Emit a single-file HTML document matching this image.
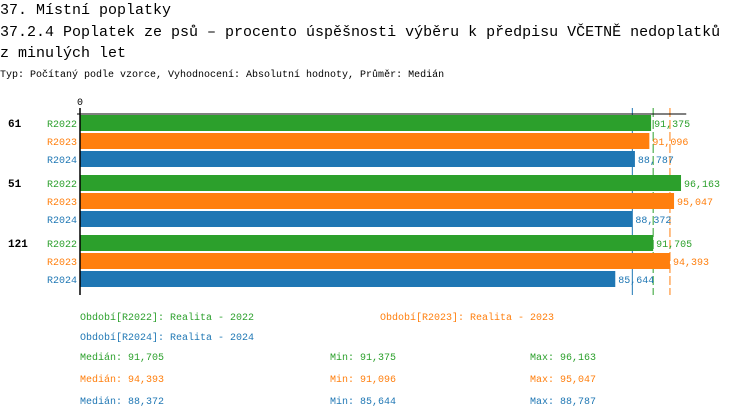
<!DOCTYPE html>
<html><head><meta charset="utf-8">
<style>
body{margin:0;background:#fff;width:750px;height:414px;overflow:hidden;font-family:"Liberation Mono",monospace;}
svg{display:block}
</style></head>
<body>
<svg id="chart" width="750" height="414" xmlns="http://www.w3.org/2000/svg">
<text x="0" y="14" font-size="15" font-family="Liberation Mono, monospace">37. Místní poplatky</text>
<text x="0" y="36" font-size="15" font-family="Liberation Mono, monospace">37.2.4 Poplatek ze psů – procento úspěšnosti výběru k předpisu VČETNĚ nedoplatků</text>
<text x="0" y="57" font-size="15" font-family="Liberation Mono, monospace">z minulých let</text>
<text x="0" y="77" font-size="10" font-family="Liberation Mono, monospace">Typ: Počítaný podle vzorce, Vyhodnocení: Absolutní hodnoty, Průměr: Medián</text>
<g id="plot"></g>
</svg>
<script>
const groups = ["61","51","121"];
const seriesNames = ["R2022","R2023","R2024"];
const seriesColors = ["#2ca02c","#ff7f0e","#1f77b4"];
const valuesR2022 = [91.375, 96.163, 91.705];
const valuesR2023 = [91.096, 95.047, 94.393];
const valuesR2024 = [88.787, 88.372, 85.644];
const medians = [91.705, 94.393, 88.372];
const mins = [91.375, 91.096, 85.644];
const maxs = [96.163, 95.047, 88.787];
const legendLabels = ["Období[R2022]: Realita - 2022","Období[R2023]: Realita - 2023","Období[R2024]: Realita - 2024"];

const NS = "http://www.w3.org/2000/svg";
const plot = document.getElementById('plot');
const x0 = 80, pxPerUnit = 6.25;
const xScale = v => x0 + v * pxPerUnit;
const yBar = (g, s) => 115 + g * 60 + s * 18;
const series = [valuesR2022, valuesR2023, valuesR2024];
const fmt = v => v.toFixed(3).replace('.', ',');
function mk(tag, attrs, text){
  const e = document.createElementNS(NS, tag);
  for (const k in attrs) e.setAttribute(k, attrs[k]);
  if (text !== undefined) e.textContent = text;
  plot.appendChild(e);
  return e;
}
const F = "Liberation Mono, monospace";

let t = mk('text', {x: x0, y: 105, 'font-size': 10, 'text-anchor': 'middle', 'font-family': F}, '0');



medians.forEach((m, si) => {
  const attrs = {x1: xScale(m), x2: xScale(m), y1: 108, y2: 295, stroke: seriesColors[si], 'stroke-width': 1};
  if (si < 2) attrs['stroke-dasharray'] = '9,3';
  const l = mk('line', attrs);
  
  
});

let tl = mk('line', {x1: 77, x2: xScale(97), y1: 114, y2: 114, stroke: '#000', 'stroke-width': 1});



groups.forEach((g, gi) => {
  let lab = mk('text', {x: 8, y: yBar(gi, 0) + 12, 'font-size': 11, 'font-weight': 'bold', 'font-family': F}, g);
  
  
  series.forEach((vals, si) => {
    const y = yBar(gi, si);
    const r = mk('rect', {x: x0, y: y, width: xScale(vals[gi]) - x0, height: 16, fill: seriesColors[si]});
    
    
    const sl = mk('text', {x: 77, y: y + 12, 'font-size': 10, 'text-anchor': 'end', fill: seriesColors[si], 'font-family': F}, seriesNames[si]);
    
    
    const vl = mk('text', {x: xScale(vals[gi]) + 3, y: y + 12, 'font-size': 10, fill: seriesColors[si], 'font-family': F}, fmt(vals[gi]));
    
    
  });
});

let ax = mk('line', {x1: x0, x2: x0, y1: 108, y2: 295, stroke: '#000', 'stroke-width': 1.5});



const legPos = [[80, 320], [380, 320], [80, 340]];
legendLabels.forEach((s, i) => {
  const e = mk('text', {x: legPos[i][0], y: legPos[i][1], 'font-size': 10, fill: seriesColors[i], 'font-family': F}, s);
  
  
});
seriesNames.forEach((s, i) => {
  const y = 360 + i * 22;
  const a = mk('text', {x: 80, y: y, 'font-size': 10, fill: seriesColors[i], 'font-family': F}, 'Medián: ' + fmt(medians[i]));
  
  
  const b = mk('text', {x: 330, y: y, 'font-size': 10, fill: seriesColors[i], 'font-family': F}, 'Min: ' + fmt(mins[i]));
  
  
  const c = mk('text', {x: 530, y: y, 'font-size': 10, fill: seriesColors[i], 'font-family': F}, 'Max: ' + fmt(maxs[i]));
  
  
});
</script>
</body></html>
